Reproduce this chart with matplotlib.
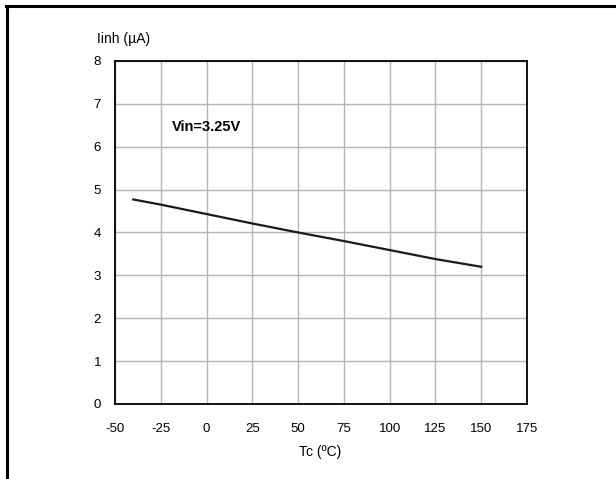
import matplotlib.pyplot as plt
from matplotlib.lines import Line2D

plt.rcParams['font.family'] = ['Liberation Sans', 'DejaVu Sans']
plt.rcParams['axes.unicode_minus'] = False

# Iinh vs case temperature
temp = [-40, -25, 0, 25, 50, 75, 100, 125, 150]
iinh = [4.77, 4.65, 4.43, 4.21, 4.00, 3.80, 3.59, 3.38, 3.20]

x_ticks = [-50, -25, 0, 25, 50, 75, 100, 125, 150, 175]
y_ticks = [0, 1, 2, 3, 4, 5, 6, 7, 8]

fig = plt.figure(figsize=(6.16, 4.79), dpi=100)
ax = fig.add_axes([0.1867, 0.1566, 0.6688, 0.7161])

ax.plot(temp, iinh, color='#1a1a1a', lw=1.6)

ax.set_xlim(-50, 175)
ax.set_ylim(0, 8)
ax.set_xticks(x_ticks)
ax.set_yticks(y_ticks)
ax.grid(True, color='#b4b4b4', lw=1.0)
ax.set_axisbelow(True)
ax.tick_params(length=0, labelsize=9.5)
ax.tick_params(axis='x', pad=14)
ax.tick_params(axis='y', pad=10)
for s in ax.spines.values():
    s.set_linewidth(1.3)
    s.set_color('black')

ax.text(-19, 6.46, 'Vin=3.25V', fontsize=10.5, fontweight='bold', va='center')
fig.text(97 / 616, 1 - 39 / 479, 'Iinh (µA)', fontsize=10, va='center', ha='left')
fig.text(320 / 616, 1 - 452 / 479, 'Tc (ºC)', fontsize=10, va='center', ha='center')

# page frame lines (top and left)
fig.add_artist(Line2D([6 / 616, 1], [1 - 5.5 / 479] * 2, color='black', lw=2.2))
fig.add_artist(Line2D([6.5 / 616] * 2, [0, 1 - 5.5 / 479], color='black', lw=2.2))

fig.savefig('out.png', dpi=100)
